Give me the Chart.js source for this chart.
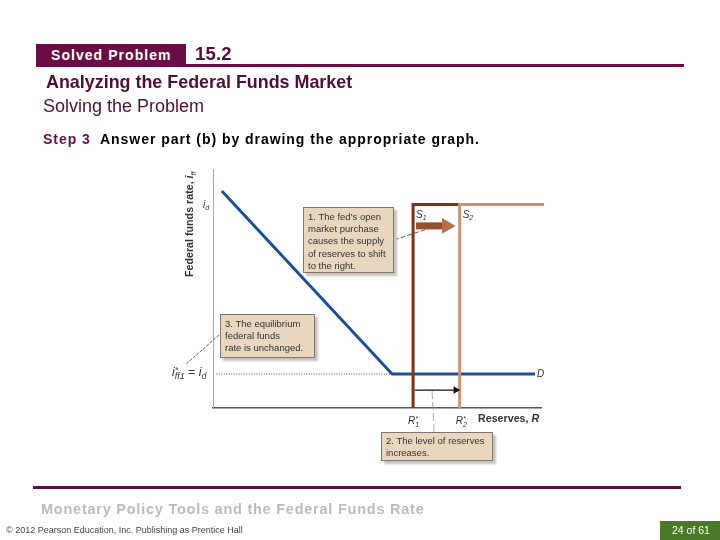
<!DOCTYPE html>
<html><head><meta charset="utf-8">
<script src="https://cdn.jsdelivr.net/npm/chart.js@4"></script>
<style>
html,body{margin:0;padding:0;background:#fff;width:720px;height:540px;overflow:hidden;font-family:"Liberation Sans",Arial,sans-serif}
canvas{position:absolute;left:0;top:0}
.t{position:absolute;white-space:nowrap;z-index:3}
.b{position:absolute;z-index:2}
.call{position:absolute;z-index:2;box-sizing:border-box;background:#e9d6be;border:1px solid #7d776f;box-shadow:3px 3px 2px #c4c4c4;font-size:9.5px;line-height:12.2px;color:#333;padding:3px 0 0 4px;white-space:nowrap}
</style></head><body>
<div class="b" style="left:36px;top:44px;width:150px;height:23px;background:#6a0d45"></div>
<div class="b" style="left:36px;top:64px;width:648px;height:3px;background:#6a0d45"></div>
<div class="t" style="left:51px;top:47px;font-size:14px;font-weight:bold;color:#fff;letter-spacing:1.05px">Solved Problem</div>
<div class="t" style="left:195px;top:43px;font-size:18.5px;font-weight:bold;color:#4f0f38;letter-spacing:.2px">15.2</div>
<div class="t" style="left:46px;top:72px;font-size:17.9px;font-weight:bold;color:#4f0f38">Analyzing the Federal Funds Market</div>
<div class="t" style="left:43px;top:96px;font-size:18px;color:#4f0f38">Solving the Problem</div>
<div class="t" style="left:43px;top:131px;font-size:14px;font-weight:bold;color:#000;letter-spacing:.96px"><span style="color:#6a0d45">Step 3</span>&nbsp; Answer part (b) by drawing the appropriate graph.</div>

<div class="call" style="left:303px;top:207px;width:91px;height:66px">1. The fed’s open<br>market purchase<br>causes the supply<br>of reserves to shift<br>to the right.</div>
<div class="call" style="left:220px;top:314px;width:95px;height:44px">3. The equilibrium<br>federal funds<br>rate is unchanged.</div>
<div class="call" style="left:381px;top:432px;width:112px;height:29px;padding-top:2px">2. The level of reserves<br>increases.</div>

<div class="b" style="left:33px;top:486px;width:648px;height:3px;background:#5a0f3f"></div>
<div class="t" style="left:41px;top:501px;font-size:14.5px;font-weight:bold;color:#bcbcbc;letter-spacing:.76px">Monetary Policy Tools and the Federal Funds Rate</div>
<div class="t" style="left:6px;top:525px;font-size:9px;color:#444">© 2012 Pearson Education, Inc. Publishing as Prentice Hall</div>
<div class="b" style="left:660px;top:521px;width:60px;height:19px;background:#4b7a26"></div>
<div class="t" style="left:672px;top:524px;font-size:10.5px;color:#fff">24 of 61</div>

<canvas id="c" width="720" height="540"></canvas>
<script>
// Reserves and federal funds rate, in axis units (0-100)
const demandX = [2.7, 54.6, 98.2];
const demandY = [90.8, 14.2, 14.2];
const reserves1 = 61.0;
const reserves2 = 75.2;
const supplyTop = 85.1;
const supplyEnd = 100.9;
const rateD = 85;
const rateEq = 14.2;
const dottedStart = 1;
const reserveArrowY = 7.5;
const reserveArrowX = [61.5, 74];
const shiftY = 76.2;
const shiftShaftX = [61.9, 70];
const shiftHeadX = 71.2;
const leader1X = [55.2, 66.2], leader1Y = [70.3, 75.3];
const leader2X = [66.8, 67.4], leader2Y = [7.1, -10];
const leader3X = [1.8, -8.5], leader3Y = [30.5, 18];
const xLabels = [["R","*","1"],["R","*","2"]];

const pts = (xs, ys) => xs.map((x, i) => ({x, y: ys[i]}));
const base = {pointRadius: 0, clip: false, fill: false, tension: 0};

const richLabels = {
  id: 'richLabels',
  afterDatasetsDraw(chart) {
    const c = chart.ctx, sx = chart.scales.x, sy = chart.scales.y;
    const fam = '"Liberation Sans",Arial,sans-serif';
    function rich(x, y, segs, k) {
      k = k || 1;
      c.save(); c.translate(x, y); c.textBaseline = 'alphabetic'; c.textAlign = 'left'; c.fillStyle = '#333';
      let dx = 0;
      for (const [txt, kind] of segs) {
        let font = `italic ${10 * k}px ${fam}`, dy = 0;
        if (kind === 'b') font = `bold ${10.7 * k}px ${fam}`;
        if (kind === 'bi') font = `italic bold ${10.7 * k}px ${fam}`;
        if (kind === 'sub') { font = `italic ${7 * k}px ${fam}`; dy = 2.5; }
        if (kind === 'sup') { font = `italic ${7 * k}px ${fam}`; dy = -3; }
        if (kind === 'n') font = `${10 * k}px ${fam}`;
        c.font = font; c.fillText(txt, dx, dy);
        if (kind !== 'sup') dx += c.measureText(txt).width;
      }
      c.restore();
    }
    const axisY = sy.getPixelForValue(0);
    xLabels.forEach((l, i) => {
      const px = sx.getPixelForValue(i ? reserves2 : reserves1);
      rich(px - 5 + i, axisY + 16, [[l[0], 'i'], [l[1], 'sup'], [l[2], 'sub']]);
    });
    rich(sx.getPixelForValue(reserves1) + 3, sy.getPixelForValue(rateD) + 13, [['S','i'],['1','sub']]);
    rich(sx.getPixelForValue(reserves2) + 3, sy.getPixelForValue(rateD) + 13, [['S','i'],['2','sub']]);
    rich(sx.getPixelForValue(100) - 4, sy.getPixelForValue(rateEq) + 3, [['D','i']]);
    rich(sx.getPixelForValue(0) - 10, sy.getPixelForValue(rateD) + 3, [['i','i'],['d','sub']]);
    rich(sx.getPixelForValue(0) - 41, sy.getPixelForValue(rateEq) + 2, [['i','i'],['*','sup'],['ff1','sub'],[' = ','n'],['i','i'],['d','sub']], 1.25);
    rich(sx.getPixelForValue(100) - 63, axisY + 14, [['Reserves, ','b'],['R','bi']]);
    c.save(); c.translate(sx.getPixelForValue(0) - 20, axisY - 131); c.rotate(-Math.PI / 2);
    rich(0, 0, [['Federal funds rate, ','b'],['i','bi'],['ff','sub']]);
    c.restore();
  }
};

new Chart(document.getElementById('c'), {
  type: 'line',
  plugins: [richLabels],
  data: {datasets: [
    {...base, data: pts(reserveArrowX, [reserveArrowY, reserveArrowY]), borderColor: '#111', borderWidth: 1.3,
      pointRadius: [0, 3], pointStyle: 'triangle', pointRotation: 90, pointBackgroundColor: '#111', pointBorderColor: '#111'},
    {...base, data: pts([shiftHeadX], [shiftY]), showLine: false, pointRadius: 9, pointStyle: 'triangle', pointRotation: 90,
      pointBackgroundColor: '#b56f4a', pointBorderColor: '#b56f4a', pointBorderWidth: 0},
    {...base, data: pts(shiftShaftX, [shiftY, shiftY]), borderWidth: 7, borderCapStyle: 'butt', borderColor: '#94502f'},
    {...base, data: pts([reserves2, reserves2, supplyEnd], [0, supplyTop, supplyTop]), borderColor: '#c9927a', borderWidth: 3, borderJoinStyle: 'miter'},
    {...base, data: pts([reserves1, reserves1, reserves2], [0, supplyTop, supplyTop]), borderColor: '#7b3418', borderWidth: 3, borderJoinStyle: 'miter'},
    {...base, data: pts(demandX, demandY), borderColor: '#1d4f91', borderWidth: 3, borderJoinStyle: 'round'},
    {...base, data: pts([dottedStart, demandX[1]], [rateEq, rateEq]), borderColor: '#555', borderWidth: 1, borderDash: [1, 1.5]},
    {...base, data: pts(leader1X, leader1Y), borderColor: '#555', borderWidth: 0.9, borderDash: [5, 2]},
    {...base, data: pts(leader2X, leader2Y), borderColor: '#999', borderWidth: 0.8, borderDash: [8, 3]},
    {...base, data: pts(leader3X, leader3Y), borderColor: '#444', borderWidth: 0.9, borderDash: [3, 1.5]}
  ]},
  options: {
    responsive: false, animation: false, devicePixelRatio: 1,
    layout: {padding: {left: 213, top: 169, right: 179, bottom: 132}},
    plugins: {legend: {display: false}, tooltip: {enabled: false}},
    scales: {
      x: {type: 'linear', min: 0, max: 100, afterFit(s) { s.height = 0; },
        grid: {display: false, drawTicks: false}, ticks: {display: false},
        border: {color: '#555', width: 1.5}},
      y: {type: 'linear', min: 0, max: 100, afterFit(s) { s.width = 0; },
        grid: {display: false, drawTicks: false}, ticks: {display: false},
        border: {color: '#aaa', width: 1}}
    }
  }
});
</script>
</body></html>
